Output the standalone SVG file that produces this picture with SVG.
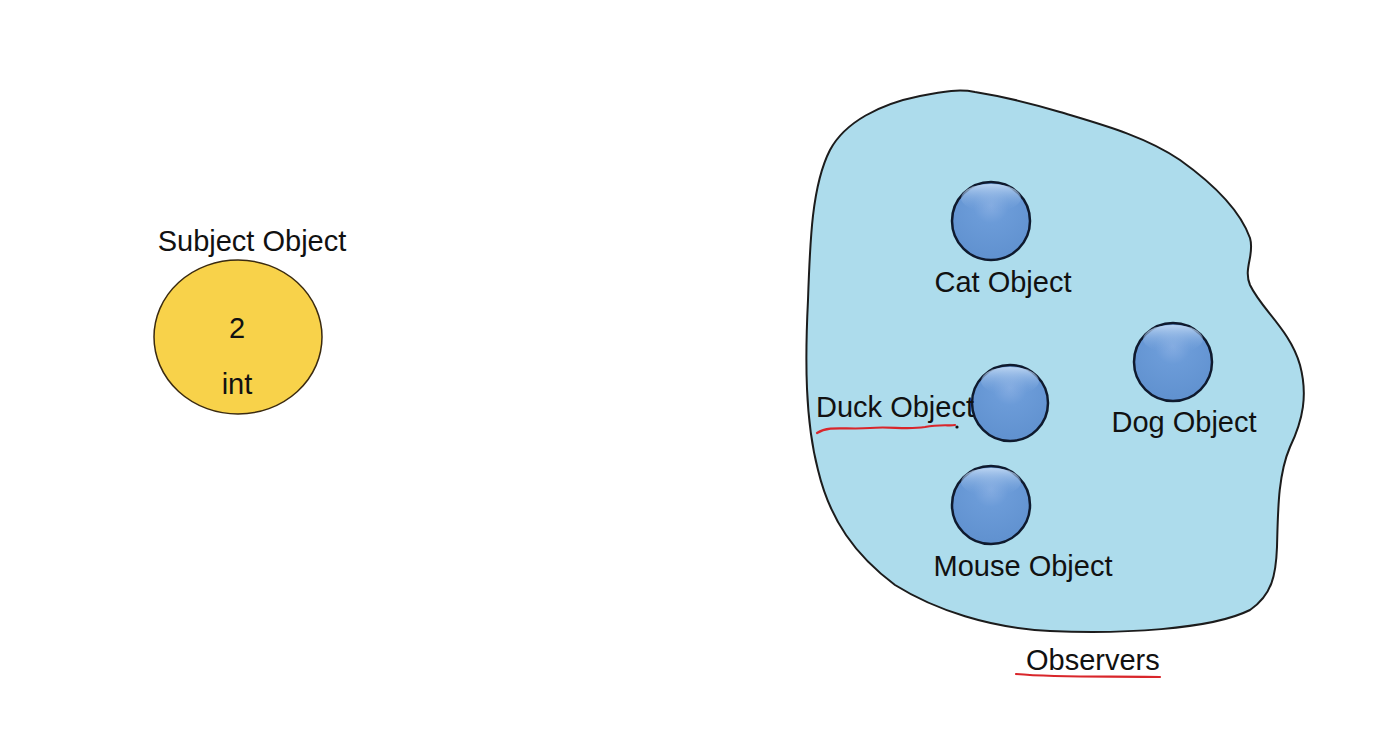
<svg xmlns="http://www.w3.org/2000/svg" width="1392" height="748" viewBox="0 0 1392 748">
<defs>
<radialGradient id="ball" cx="0.5" cy="0.3" r="0.65">
<stop offset="0" stop-color="#86ade2"/>
<stop offset="0.35" stop-color="#6b9bd8"/>
<stop offset="1" stop-color="#6192d0"/>
</radialGradient>
<linearGradient id="hl" x1="0" y1="0" x2="0" y2="1">
<stop offset="0" stop-color="#c4dbf5" stop-opacity="0.9"/>
<stop offset="1" stop-color="#6b9bd8" stop-opacity="0"/>
</linearGradient>
</defs>
<style>
text{font-family:"Liberation Sans",Arial,sans-serif;fill:#111;font-size:29px}
.ball{fill:url(#ball);stroke:#0f1a2e;stroke-width:2.5}
.hl{fill:url(#hl);stroke:none}
.red{fill:none;stroke:#d9262b;stroke-width:2.2;stroke-linecap:round}
</style>
<rect width="1392" height="748" fill="#ffffff"/>
<g id="subject">
<text x="252" y="251" text-anchor="middle" font-size="28.5">Subject Object</text>
<ellipse cx="238" cy="337" rx="84" ry="77" fill="#f8d24a" stroke="#3a2a10" stroke-width="1.5"/>
<text x="237" y="338" text-anchor="middle" font-size="30">2</text>
<text x="237" y="394" text-anchor="middle" font-size="32">int</text>
</g>
<g id="observers">
<path d="M830,150 C845,122 880,104 920,96 C945,91 960,89 975,92 C1000,96 1030,103 1060,112 C1100,124 1145,136 1180,160 C1215,185 1240,210 1250,238 C1255,255 1243,268 1250,285 C1262,310 1290,330 1300,365 C1308,395 1303,420 1290,447 C1278,475 1278,510 1277,547 C1276,575 1272,595 1250,610 C1210,630 1120,634 1050,631 C990,628 935,610 895,585 C855,555 830,520 818,470 C805,420 805,360 808,300 C810,240 812,185 830,150 Z" fill="#addcec" stroke="#1c1c1c" stroke-width="2"/>
<text x="1026" y="670" text-anchor="start">Observers</text>
<path class="red" d="M1016,674 C1060,678 1110,676 1160,677"/>
</g>
<g id="cat">
<circle class="ball" cx="991" cy="221" r="39"/>
<ellipse class="hl" cx="991" cy="198" rx="30" ry="14"/>
<text x="1003" y="292" text-anchor="middle">Cat Object</text>
</g>
<g id="duck">
<circle class="ball" cx="1010" cy="403" r="38"/>
<ellipse class="hl" cx="1010" cy="381" rx="29" ry="14"/>
<text x="816" y="417" text-anchor="start">Duck Object</text>
<path class="red" d="M817,433 C830,425 845,430 870,428 C890,426 905,430 925,427 C940,424 950,426 955,425"/>
<circle cx="957" cy="427" r="1.6" fill="#111"/>
</g>
<g id="dog">
<circle class="ball" cx="1173" cy="362" r="39"/>
<ellipse class="hl" cx="1173" cy="339" rx="30" ry="14"/>
<text x="1184" y="432" text-anchor="middle">Dog Object</text>
</g>
<g id="mouse">
<circle class="ball" cx="991" cy="505" r="39"/>
<ellipse class="hl" cx="991" cy="482" rx="30" ry="14"/>
<text x="1023" y="576" text-anchor="middle">Mouse Object</text>
</g>
<g id="connectors"></g>
</svg>
